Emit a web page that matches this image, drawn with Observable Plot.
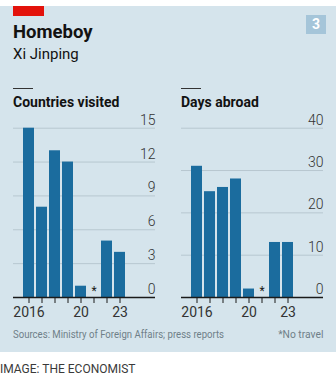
<!DOCTYPE html>
<html><head><meta charset="utf-8">
<script src="https://cdn.jsdelivr.net/npm/d3@7"></script>
<script src="https://cdn.jsdelivr.net/npm/@observablehq/plot@0.6"></script>
<style>
html,body{margin:0;padding:0;background:#fff;}
#root{position:relative;width:336px;height:379px;font-family:Roboto,sans-serif;overflow:hidden;}
#bg{position:absolute;left:0;top:6px;width:336px;height:346px;background:#d5e4ec;}
.abs{position:absolute;white-space:nowrap;line-height:1;}
#red{position:absolute;left:13px;top:6px;width:31px;height:10px;background:#e3120b;}
#badge{position:absolute;left:306px;top:15px;width:20px;height:19px;background:#a5c5d9;color:#fff;font-weight:700;font-size:14px;text-align:center;line-height:19px;}
.rule{position:absolute;height:1.5px;width:20px;background:#333;top:87.5px;}
.panel{position:absolute;top:110px;}
.foot{font-size:11.7px;color:#6f7f88;top:329.1px;}
</style></head>
<body>
<div id="root">
  <div id="bg"></div>
  <div id="red"></div>
  <div id="badge">3</div>
  <div class="abs" style="left:13px;top:22.7px;font-size:18.5px;font-weight:700;color:#121212;">Homeboy</div>
  <div class="abs" style="left:13px;top:47.4px;font-size:15px;color:#121212;">Xi Jinping</div>
  <div class="rule" style="left:13px"></div>
  <div class="rule" style="left:181px"></div>
  <div class="abs" style="left:13px;top:94.7px;font-size:14px;font-weight:700;color:#121212;">Countries visited</div>
  <div class="abs" style="left:181px;top:94.7px;font-size:14px;font-weight:700;color:#121212;">Days abroad</div>
  <div id="left" class="panel" style="left:0px"></div>
  <div id="right" class="panel" style="left:168px"></div>
  <div class="abs foot" style="left:13px;transform:scaleX(0.82);transform-origin:left center;">Sources: Ministry of Foreign Affairs; press reports</div>
  <div class="abs foot" style="right:13px;transform:scaleX(0.88);transform-origin:right center;">*No travel</div>
  <div class="abs" style="left:0px;top:363.3px;font-size:12px;color:#3a3a3a;">IMAGE: THE ECONOMIST</div>
</div>
<script>
const years = [2016, 2017, 2018, 2019, 2020, 2021, 2022, 2023];
const countriesVisited = [15, 8, 13, 12, 1, 0, 5, 4];
const daysAbroad = [31, 25, 26, 28, 2, 0, 13, 13];
const yearLabels = {2016: "2016", 2020: "20", 2023: "23"};
const noTravelYears = [2021];
const countryTicks = [0, 3, 6, 9, 12, 15];
const dayTicks = [0, 10, 20, 30, 40];

const BAR = "#1b6c9e";
const GRID = "#b7c7d0";

function panel(values, ticks, maxY) {
  const data = years.map((y, i) => ({year: y, value: values[i]}));
  return Plot.plot({
    width: 168,
    height: 215,
    marginLeft: 13,
    marginRight: 13,
    marginTop: 17.7,
    marginBottom: 28,
    style: {fontFamily: "Roboto, sans-serif", fontSize: "14px", background: "transparent", color: "#333"},
    x: {type: "band", domain: years, range: [20.3, 128], paddingInner: 0.18, paddingOuter: 0.09, align: 0.5},
    y: {domain: [0, maxY], axis: null},
    marks: [
      Plot.ruleY(ticks.filter(t => t !== 0), {stroke: GRID, strokeWidth: 1}),
      Plot.barY(data.filter(d => d.value > 0), {x: "year", y: "value", fill: BAR}),
      Plot.ruleY([0], {stroke: "#1a1a1a", strokeWidth: 1.5}),
      Plot.text(ticks, {y: d => d, text: d => String(d), frameAnchor: "right", textAnchor: "end", dy: -8, fill: "#333", fontSize: 14, fontWeight: 300}),
      Plot.text(noTravelYears, {x: d => d, y: () => 0, text: () => "*", dy: -6, fill: "#1a1a1a", fontSize: 12}),
      Plot.axisX({ticks: years, tickFormat: d => yearLabels[d] || "", tickSize: 6, tickPadding: 4, stroke: "#1a1a1a", fill: "#333", fontSize: 14, label: null})
    ]
  });
}

document.getElementById("left").append(panel(countriesVisited, countryTicks, 15));
document.getElementById("right").append(panel(daysAbroad, dayTicks, 40));
</script>
</body></html>
